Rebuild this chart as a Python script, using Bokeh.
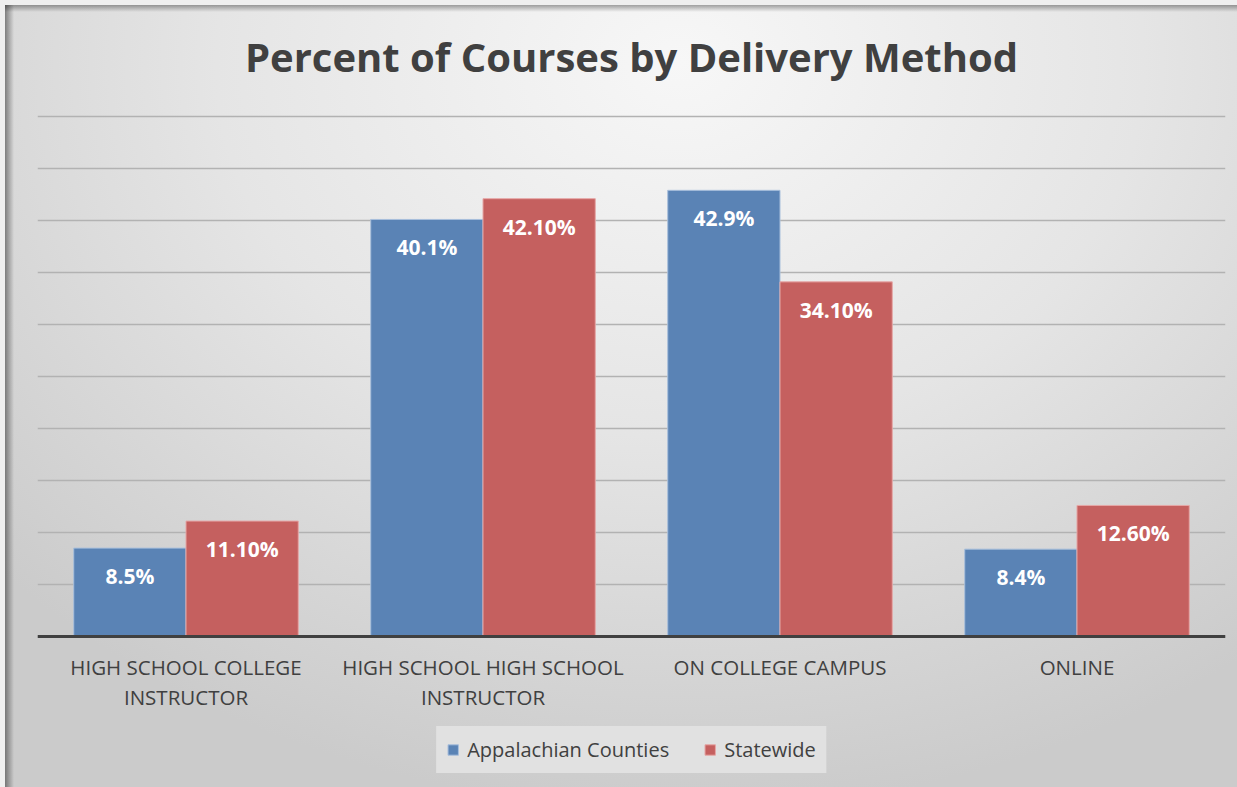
from bokeh.plotting import figure
from bokeh.models import (ColumnDataSource, Legend, LegendItem, SingleIntervalTicker,
                          Range1d, Label)
from bokeh.transform import dodge
from bokeh.core.properties import value
from bokeh.embed import file_html
from bokeh.resources import INLINE

categories = ["HIGH SCHOOL COLLEGE\nINSTRUCTOR", "HIGH SCHOOL HIGH SCHOOL\nINSTRUCTOR",
              "ON COLLEGE CAMPUS", "ONLINE"]
appalachian = [8.5, 40.1, 42.9, 8.4]
statewide = [11.1, 42.1, 34.1, 12.6]
series_names = ["Appalachian Counties", "Statewide"]
title_text = "Percent of Courses by Delivery Method"

FONT = "Open Sans"
TXT = "#404040"

W, H = 1237, 787
LEFT, RIGHT = 37, 12          # side borders around plot frame (px)
TOP_PX, BASE_PX = 116, 636    # pixel rows of the 50% gridline and of the baseline
Y_MAX = 50
px_per_unit = (BASE_PX - TOP_PX) / Y_MAX
y_end = BASE_PX / px_per_unit
y_start = -(H - BASE_PX) / px_per_unit

src = ColumnDataSource(dict(
    cat=categories,
    app=appalachian,
    st=statewide,
    app_lbl=[f"{v:.1f}%" for v in appalachian],
    st_lbl=[f"{v:.2f}%" for v in statewide],
))

bg = ("linear-gradient(to right, #efefef 0 5px, transparent 5px), "
      "linear-gradient(to bottom, #efefef 0 5px, transparent 5px), "
      "linear-gradient(to right, rgba(0,0,0,0.42) 5px, rgba(0,0,0,0) 14px), "
      "linear-gradient(to bottom, rgba(0,0,0,0.35) 5px, rgba(0,0,0,0) 12px), "
      "radial-gradient(ellipse 75% 95% at 55% 8%, #f7f7f7 0%, #e5e5e5 50%, #cbcbcb 100%)")

p = figure(x_range=categories, y_range=Range1d(y_start, y_end), width=W, height=H,
           output_backend="svg", toolbar_location=None, y_axis_location=None,
           min_border_left=LEFT, min_border_right=RIGHT, min_border_top=0,
           min_border_bottom=0, styles={"background": bg})
p.border_fill_color = None
p.background_fill_color = None
p.outline_line_color = None

p.xgrid.visible = False
p.ygrid.ticker = SingleIntervalTicker(interval=5)
p.ygrid.bounds = (0, Y_MAX)
p.ygrid.grid_line_color = "#b2b2b2"
p.ygrid.grid_line_width = 1.5

xa = p.xaxis[0]
xa.fixed_location = 0
xa.axis_line_color = TXT
xa.axis_line_width = 3
xa.major_tick_line_color = None
xa.minor_tick_line_color = None
xa.major_label_text_font = FONT
xa.major_label_text_font_size = "20.5px"
xa.major_label_text_color = TXT
xa.major_label_text_line_height = 1.1
xa.major_label_standoff = 10

w = 0.378
off = 0.189
r1 = p.vbar(x=dodge("cat", -off, range=p.x_range), top="app", width=w, source=src,
            fill_color="#5a83b5", line_color="#a8bfdc", line_width=1)
r2 = p.vbar(x=dodge("cat", off, range=p.x_range), top="st", width=w, source=src,
            fill_color="#c5605f", line_color="#e6a7a6", line_width=1)

for col, lbl, d in (("app", "app_lbl", -off), ("st", "st_lbl", off)):
    p.text(x=dodge("cat", d, range=p.x_range), y=col, text=lbl, source=src,
           y_offset=28, text_align="center", text_baseline="middle",
           text_color="white", text_font=value(FONT), text_font_style="bold",
           text_font_size="21px")

title = Label(x=(W - LEFT - RIGHT) / 2, y=H - 56, x_units="screen", y_units="screen",
              text=title_text, text_align="center", text_baseline="middle",
              text_font=FONT, text_font_size="40px", text_font_style="bold",
              text_color=TXT)
p.add_layout(title)

legend = Legend(items=[LegendItem(label=series_names[0], renderers=[r1]),
                       LegendItem(label=series_names[1], renderers=[r2])],
                orientation="horizontal", location="bottom_center",
                background_fill_color="#e1e1e1", background_fill_alpha=1,
                border_line_color="#e1e1e1", border_line_width=1,
                label_text_font=FONT, label_text_font_size="20px", label_text_color=TXT,
                glyph_width=13, glyph_height=13, label_standoff=8,
                spacing=34, padding=9, margin=14)
p.add_layout(legend)

open("out.html", "w").write(file_html(p, INLINE, title=title_text))
